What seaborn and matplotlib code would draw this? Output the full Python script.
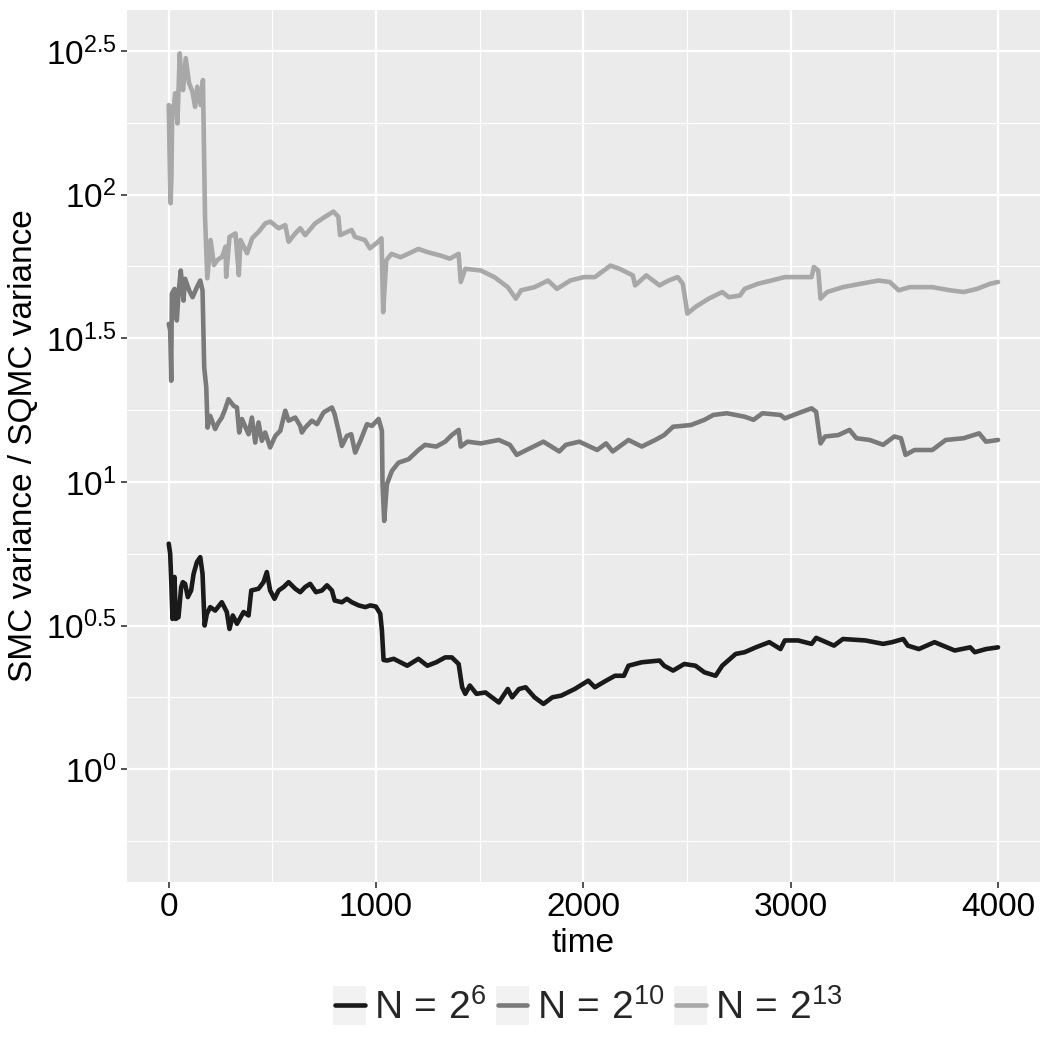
import numpy as np
import pandas as pd
import seaborn as sns
import matplotlib
matplotlib.use('Agg')
import matplotlib.pyplot as plt
import matplotlib.ticker as mtick
from matplotlib.lines import Line2D
from matplotlib.patches import Rectangle
from matplotlib.legend_handler import HandlerBase

# === data (time, log10 of SMC variance / SQMC variance) ===
t_n6 = [1, 8, 13, 19, 29, 35, 48, 61, 69, 80, 93, 109, 121, 137, 153, 164, 174, 185, 201,
        225, 257, 281, 294, 310, 330, 362, 386, 399, 434, 458, 474, 490, 511, 531, 555,
        579, 611, 635, 659, 683, 711, 740, 764, 788, 801, 836, 860, 884, 917, 949, 973,
        1000, 1021, 1029, 1037, 1054, 1086, 1151, 1205, 1248, 1291, 1334, 1366, 1399,
        1416, 1431, 1453, 1485, 1528, 1593, 1636, 1657, 1690, 1722, 1765, 1808, 1851,
        1894, 1959, 2024, 2056, 2110, 2153, 2196, 2218, 2282, 2368, 2390, 2433, 2487,
        2541, 2584, 2638, 2670, 2735, 2778, 2832, 2897, 2951, 2972, 3036, 3101, 3123,
        3209, 3252, 3360, 3446, 3489, 3543, 3565, 3618, 3694, 3791, 3866, 3888, 3942, 4000]
log_n6 = [0.785, 0.750, 0.657, 0.523, 0.669, 0.523, 0.529, 0.634, 0.651, 0.645, 0.599, 0.622,
          0.680, 0.721, 0.738, 0.680, 0.500, 0.541, 0.564, 0.552, 0.581, 0.547, 0.488, 0.535,
          0.506, 0.547, 0.535, 0.622, 0.628, 0.651, 0.686, 0.622, 0.593, 0.622, 0.634, 0.651,
          0.628, 0.616, 0.634, 0.645, 0.616, 0.622, 0.640, 0.622, 0.587, 0.581, 0.593, 0.581,
          0.570, 0.564, 0.570, 0.566, 0.541, 0.483, 0.380, 0.378, 0.384, 0.360, 0.384, 0.360,
          0.372, 0.389, 0.389, 0.366, 0.285, 0.262, 0.291, 0.262, 0.267, 0.232, 0.279, 0.250,
          0.279, 0.285, 0.250, 0.227, 0.250, 0.256, 0.279, 0.308, 0.285, 0.308, 0.325, 0.325,
          0.360, 0.372, 0.378, 0.360, 0.343, 0.366, 0.360, 0.337, 0.325, 0.360, 0.401, 0.407,
          0.424, 0.442, 0.418, 0.448, 0.448, 0.436, 0.457, 0.430, 0.453, 0.448, 0.436, 0.442,
          0.453, 0.430, 0.418, 0.442, 0.413, 0.424, 0.407, 0.418, 0.424]

t_n10 = [1, 8, 13, 16, 29, 40, 48, 59, 72, 80, 100, 116, 137, 153, 164, 172, 182, 188, 201,
         225, 241, 257, 273, 289, 314, 330, 341, 354, 386, 402, 418, 434, 450, 466, 490, 515,
         539, 563, 579, 611, 635, 643, 659, 691, 716, 748, 788, 801, 820, 836, 860, 881, 900,
         925, 957, 981, 1013, 1029, 1032, 1040, 1053, 1077, 1109, 1158, 1205, 1237, 1291,
         1334, 1366, 1399, 1409, 1442, 1506, 1593, 1646, 1679, 1743, 1808, 1884, 1916, 1981,
         2067, 2110, 2142, 2218, 2282, 2347, 2390, 2433, 2519, 2584, 2627, 2692, 2778, 2821,
         2864, 2951, 2972, 3036, 3101, 3123, 3144, 3166, 3230, 3284, 3317, 3381, 3446, 3500,
         3532, 3554, 3597, 3683, 3748, 3834, 3909, 3942, 4000]
log_n10 = [1.55, 1.527, 1.352, 1.655, 1.672, 1.562, 1.655, 1.736, 1.631, 1.707, 1.666, 1.643,
           1.678, 1.701, 1.666, 1.399, 1.329, 1.189, 1.230, 1.184, 1.207, 1.224, 1.253, 1.288,
           1.265, 1.259, 1.172, 1.219, 1.166, 1.224, 1.137, 1.207, 1.143, 1.172, 1.120, 1.160,
           1.178, 1.248, 1.213, 1.224, 1.195, 1.172, 1.189, 1.213, 1.201, 1.242, 1.259, 1.236,
           1.178, 1.125, 1.160, 1.166, 1.102, 1.143, 1.201, 1.195, 1.219, 1.178, 0.992, 0.864,
           0.992, 1.038, 1.067, 1.079, 1.111, 1.129, 1.123, 1.140, 1.163, 1.181, 1.123, 1.140,
           1.134, 1.146, 1.129, 1.094, 1.117, 1.140, 1.106, 1.129, 1.140, 1.111, 1.134, 1.106,
           1.146, 1.123, 1.146, 1.163, 1.192, 1.198, 1.216, 1.233, 1.239, 1.227, 1.216, 1.239,
           1.233, 1.221, 1.239, 1.256, 1.244, 1.134, 1.158, 1.163, 1.181, 1.152, 1.146, 1.129,
           1.158, 1.152, 1.094, 1.111, 1.111, 1.146, 1.152, 1.169, 1.140, 1.146]

t_n13 = [1, 6, 10, 14, 18, 25, 32, 43, 54, 62, 70, 83, 99, 115, 128, 139, 155, 166, 176, 187,
         203, 219, 235, 259, 275, 278, 294, 323, 339, 347, 379, 403, 435, 467, 491, 531, 563,
         579, 611, 635, 659, 707, 755, 795, 819, 827, 883, 899, 947, 971, 1011, 1027, 1035,
         1050, 1075, 1119, 1205, 1248, 1312, 1356, 1399, 1409, 1431, 1506, 1571, 1636, 1675,
         1700, 1765, 1830, 1873, 1937, 2002, 2056, 2131, 2174, 2239, 2250, 2304, 2368, 2411,
         2455, 2480, 2502, 2541, 2605, 2670, 2702, 2756, 2778, 2843, 2907, 2972, 3036, 3101,
         3112, 3133, 3144, 3176, 3252, 3338, 3424, 3478, 3521, 3575, 3683, 3769, 3834, 3899,
         3963, 4000]
log_n13 = [2.312, 2.10, 1.970, 2.062, 2.306, 2.30, 2.353, 2.248, 2.492, 2.40, 2.364, 2.475,
           2.388, 2.36, 2.306, 2.376, 2.312, 2.399, 1.923, 1.709, 1.842, 1.755, 1.772, 1.784,
           1.819, 1.714, 1.853, 1.865, 1.720, 1.842, 1.796, 1.848, 1.871, 1.900, 1.906, 1.883,
           1.894, 1.836, 1.865, 1.883, 1.859, 1.900, 1.923, 1.941, 1.923, 1.859, 1.877, 1.853,
           1.842, 1.813, 1.836, 1.848, 1.591, 1.771, 1.794, 1.782, 1.811, 1.800, 1.788, 1.777,
           1.794, 1.696, 1.742, 1.736, 1.713, 1.678, 1.638, 1.667, 1.678, 1.701, 1.672, 1.701,
           1.713, 1.713, 1.753, 1.742, 1.719, 1.684, 1.719, 1.684, 1.701, 1.713, 1.690, 1.586,
           1.609, 1.638, 1.661, 1.643, 1.649, 1.672, 1.690, 1.701, 1.713, 1.713, 1.713, 1.748,
           1.736, 1.638, 1.661, 1.678, 1.690, 1.701, 1.696, 1.667, 1.678, 1.678, 1.667, 1.661,
           1.672, 1.690, 1.696]

series_names = ['N6', 'N10', 'N13']
legend_labels = [r'$N\,=\,2^{6}$', r'$N\,=\,2^{10}$', r'$N\,=\,2^{13}$']
line_colors = ['#1a1a1a', '#7a7a7a', '#a8a8a8']
ytick_exp = [0, 0.5, 1, 1.5, 2, 2.5]
yminor_exp = [-0.25, 0.25, 0.75, 1.25, 1.75, 2.25]
xticks = [0, 1000, 2000, 3000, 4000]
xminor = [500, 1500, 2500, 3500]

# === theme (ggplot-like grey) ===
sns.set_theme(style='darkgrid', rc={
    'axes.facecolor': '#EBEBEB',
    'grid.color': 'white',
    'axes.edgecolor': 'none',
})
plt.rcParams['font.family'] = ['Liberation Sans', 'DejaVu Sans']
plt.rcParams['mathtext.fontset'] = 'custom'
plt.rcParams['mathtext.rm'] = 'Liberation Sans'
plt.rcParams['mathtext.it'] = 'Liberation Sans'
plt.rcParams['mathtext.bf'] = 'Liberation Sans:bold'

df = pd.concat([
    pd.DataFrame({'time': t_n6, 'logratio': log_n6, 'N': 'N6'}),
    pd.DataFrame({'time': t_n10, 'logratio': log_n10, 'N': 'N10'}),
    pd.DataFrame({'time': t_n13, 'logratio': log_n13, 'N': 'N13'}),
], ignore_index=True)
df['ratio'] = 10 ** df['logratio']

fig, ax = plt.subplots(figsize=(10.5, 10.5), dpi=100)
fig.subplots_adjust(left=0.121, right=0.990, top=0.9905, bottom=0.16)

sns.lineplot(data=df, x='time', y='ratio', hue='N', hue_order=series_names,
             palette=dict(zip(series_names, line_colors)), estimator=None, sort=False,
             linewidth=3.3, legend=False, ax=ax)

ax.set_yscale('log')
ax.set_xlim(-200, 4200)
ax.set_ylim(10 ** -0.393, 10 ** 2.643)
ax.yaxis.set_major_locator(mtick.FixedLocator([10 ** e for e in ytick_exp]))
ax.yaxis.set_major_formatter(mtick.FixedFormatter([rf'$10^{{{e:g}}}$' for e in ytick_exp]))
ax.yaxis.set_minor_locator(mtick.FixedLocator([10 ** e for e in yminor_exp]))
ax.yaxis.set_minor_formatter(mtick.NullFormatter())
ax.xaxis.set_major_locator(mtick.FixedLocator(xticks))
ax.xaxis.set_minor_locator(mtick.FixedLocator(xminor))

ax.grid(True, which='major', color='white', linewidth=1.6)
ax.grid(True, which='minor', color='white', linewidth=0.8)
ax.set_axisbelow(True)
for s in ax.spines.values():
    s.set_visible(False)
ax.tick_params(which='major', length=4.5, width=1.2, color='#333333', labelsize=24,
               labelcolor='black', pad=3, left=True, bottom=True)
ax.tick_params(which='minor', length=0)

ax.set_xlabel('time', fontsize=24, color='black', labelpad=3)
ax.set_ylabel('SMC variance / SQMC variance', fontsize=24, color='black', labelpad=5)


class KeyHandler(HandlerBase):
    def create_artists(self, legend, orig_handle, xdescent, ydescent, width, height, fontsize, trans):
        bg = Rectangle((-xdescent, -ydescent - 0.1 * height), width, height * 1.2,
                       facecolor='#F2F2F2', edgecolor='none', transform=trans)
        y = -ydescent + height / 2
        ln = Line2D([-xdescent + 0.05 * width, -xdescent + 0.95 * width], [y, y],
                    color=orig_handle.get_color(), linewidth=3.3, transform=trans)
        return [bg, ln]


handles = [Line2D([], [], color=c) for c in line_colors]
fig.legend(handles, legend_labels, loc='center', bbox_to_anchor=(0.56, 0.040), ncol=3,
           frameon=False, fontsize=28, handler_map={Line2D: KeyHandler()},
           handlelength=0.85, handleheight=0.9, handletextpad=0.2, columnspacing=0.25)

fig.savefig('out.png', dpi=100, facecolor='white')
